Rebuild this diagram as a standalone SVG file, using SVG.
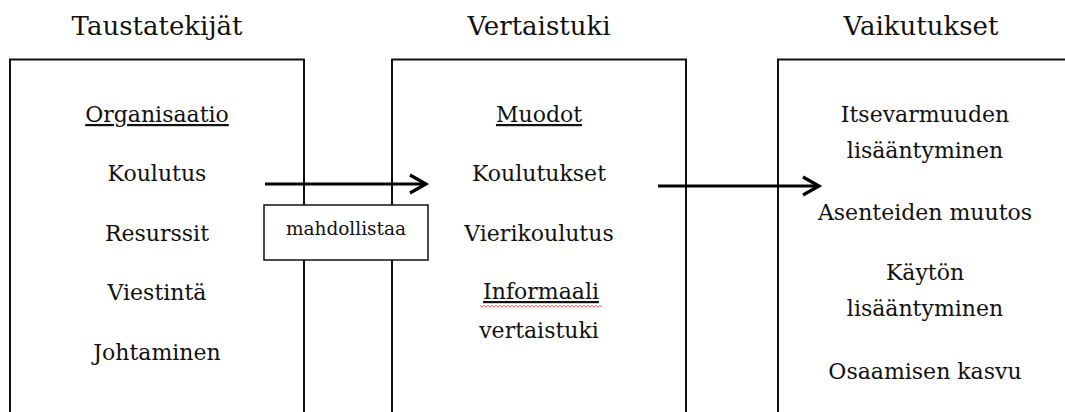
<svg xmlns="http://www.w3.org/2000/svg" width="1065" height="412" viewBox="0 0 1065 412">
  <style>
    .frame { fill: none; stroke: #111; stroke-width: 2; }
    .title { font-family: "DejaVu Serif", "Liberation Serif", serif; font-size: 26px; fill: #111; text-anchor: middle; }
    .item { font-family: "DejaVu Serif", "Liberation Serif", serif; font-size: 22px; fill: #111; text-anchor: middle; }
    .head { text-decoration: underline; }
    .flow { fill: none; stroke: #000; stroke-width: 3.2; }
    .tag { fill: #fff; stroke: #111; stroke-width: 1.5; }
    .tagtext { font-family: "DejaVu Serif", "Liberation Serif", serif; font-size: 18.5px; fill: #111; text-anchor: middle; }
  </style>
  <defs>
    <marker id="chevron" markerUnits="userSpaceOnUse" markerWidth="24" markerHeight="24" viewBox="-20 -12 24 24" refX="0" refY="0" orient="auto">
      <path d="M-16,-9 L0,0 L-16,9" fill="none" stroke="#000" stroke-width="3.2" stroke-linejoin="miter"/>
    </marker>
  </defs>
  <rect width="1065" height="412" fill="#fff"/>

  <!-- Background factors -->
  <g id="taustatekijat">
    <text class="title" x="157" y="35">Taustatekijät</text>
    <path class="frame" d="M10,413 V59.5 H304 V413"/>
    <text class="item head" x="157" y="122">Organisaatio</text>
    <text class="item" x="157" y="181">Koulutus</text>
    <text class="item" x="157" y="241">Resurssit</text>
    <text class="item" x="157" y="300">Viestintä</text>
    <text class="item" x="157" y="360">Johtaminen</text>
  </g>

  <!-- Peer support -->
  <g id="vertaistuki">
    <text class="title" x="539" y="35">Vertaistuki</text>
    <path class="frame" d="M392,413 V59.5 H686 V413"/>
    <text class="item head" x="539" y="122">Muodot</text>
    <text class="item" x="539" y="181">Koulutukset</text>
    <text class="item" x="539" y="241">Vierikoulutus</text>
    <text class="item head" x="541" y="299">Informaali</text>
    <polyline points="480,305.5 482,307 484,305.5 486,307 488,305.5 490,307 492,305.5 494,307 496,305.5 498,307 500,305.5 502,307 504,305.5 506,307 508,305.5 510,307 512,305.5 514,307 516,305.5 518,307 520,305.5 522,307 524,305.5 526,307 528,305.5 530,307 532,305.5 534,307 536,305.5 538,307 540,305.5 542,307 544,305.5 546,307 548,305.5 550,307 552,305.5 554,307 556,305.5 558,307 560,305.5 562,307 564,305.5 566,307 568,305.5 570,307 572,305.5 574,307 576,305.5 578,307 580,305.5 582,307 584,305.5 586,307 588,305.5 590,307 592,305.5 594,307 596,305.5 598,307 600,305.5 602,307" fill="none" stroke="#e8383d" stroke-width="0.8"/>
    <text class="item" x="539" y="338">vertaistuki</text>
  </g>

  <!-- Effects -->
  <g id="vaikutukset">
    <text class="title" x="921" y="35">Vaikutukset</text>
    <path class="frame" d="M778,413 V59.5 H1066"/>
    <text class="item" x="925" y="122">Itsevarmuuden</text>
    <text class="item" x="925" y="158">lisääntyminen</text>
    <text class="item" x="925" y="220">Asenteiden muutos</text>
    <text class="item" x="925" y="280">Käytön</text>
    <text class="item" x="925" y="316">lisääntyminen</text>
    <text class="item" x="925" y="379">Osaamisen kasvu</text>
  </g>

  <!-- Connectors -->
  <g id="connectors">
    <line class="flow" x1="265" y1="184" x2="426" y2="184" marker-end="url(#chevron)"/>
    <line class="flow" x1="658" y1="186" x2="819" y2="186" marker-end="url(#chevron)"/>
  </g>

  <!-- Label on the first connector -->
  <g id="mahdollistaa">
    <rect class="tag" x="264" y="205" width="164" height="55"/>
    <text class="tagtext" x="346" y="235">mahdollistaa</text>
  </g>
</svg>
